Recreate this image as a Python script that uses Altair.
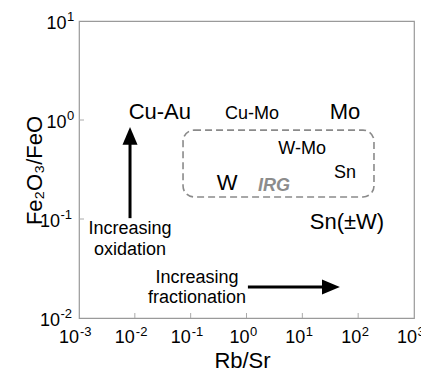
import altair as alt
import pandas as pd

# ---- data ----
x_ticks = [1e-3, 1e-2, 1e-1, 1e0, 1e1, 1e2, 1e3]
x_exps = ["-3", "-2", "-1", "0", "1", "2", "3"]
y_ticks = [1e-2, 1e-1, 1e0, 1e1]
y_exps = ["-2", "-1", "0", "1"]

big_labels = ["Cu-Au", "Mo", "W", "Sn(±W)"]
big_x = [0.028, 58, 0.45, 63]
big_y = [1.2, 1.2, 0.23, 0.093]

small_labels = ["Cu-Mo", "W-Mo", "Sn"]
small_x = [1.26, 9.9, 58]
small_y = [1.15, 0.51, 0.29]

irg_label = ["IRG"]
irg_x = [3.1]
irg_y = [0.215]

box_x = [0.073]
box_x2 = [192]
box_y = [0.79]
box_y2 = [0.167]

oxid_lines = ["Increasing", "oxidation"]
oxid_x = [0.0082, 0.0082]
oxid_y = [0.0793, 0.0486]

frac_lines = ["Increasing", "fractionation"]
frac_x = [0.13, 0.13]
frac_y = [0.0254, 0.0159]

up_x = [0.0082]
up_start = [0.102]
up_shaft_end = [0.63]
up_tip = [0.85]

right_y = [0.0206]
right_start = [1.06]
right_shaft_end = [25.5]
right_tip = [47]

FONT = "Liberation Sans"
W, H = 335, 297

xs = alt.Scale(type="log", domain=[1e-3, 1e3], nice=False)
ys = alt.Scale(type="log", domain=[1e-2, 1e1], nice=False)

x_axis = alt.Axis(values=x_ticks, labels=False, title="Rb/Sr", grid=False,
                  ticks=False, domain=False, titleFont=FONT, titleFontSize=22,
                  titleFontWeight="normal", titleColor="black",
                  titleX=163, titleY=49, titleBaseline="alphabetic", titleAlign="center")
y_axis = alt.Axis(values=y_ticks, labels=False, title="Fe₂O₃/FeO", grid=False,
                  ticks=False, domain=False, titleFont=FONT, titleFontSize=22,
                  titleFontWeight="normal", titleColor="black",
                  titleX=-38, titleY=149, titleAngle=270,
                  titleBaseline="alphabetic", titleAlign="center")

base = alt.Chart(pd.DataFrame({"x": [1e-3], "y": [1e-2]})).mark_point(opacity=0).encode(
    x=alt.X("x:Q", scale=xs, axis=x_axis),
    y=alt.Y("y:Q", scale=ys, axis=y_axis),
)

# inward tick marks
xticks = alt.Chart(pd.DataFrame({"x": x_ticks[1:-1]})).mark_rule(
    color="#aaaaaa", strokeWidth=1).encode(
    x=alt.X("x:Q", scale=xs), y=alt.value(H), y2=alt.value(H - 5))
yticks = alt.Chart(pd.DataFrame({"y": y_ticks[1:-1]})).mark_rule(
    color="#aaaaaa", strokeWidth=1).encode(
    y=alt.Y("y:Q", scale=ys), x=alt.value(0), x2=alt.value(5))

# tick labels as "10" + raised exponent
xlab = pd.DataFrame({"v": x_ticks, "e": x_exps})
xlab["neg"] = xlab["e"].str.startswith("-")
ylab = pd.DataFrame({"v": y_ticks, "e": y_exps})
ylab["neg"] = ylab["e"].str.startswith("-")

def xlabels(neg, dx10, dxe):
    src = alt.Chart(xlab).transform_filter(f"{'' if neg else '!'}datum.neg")
    ten = src.mark_text(font=FONT, fontSize=18, align="right", baseline="alphabetic",
                        dx=dx10, color="black").encode(
        x=alt.X("v:Q", scale=xs), y=alt.value(H + 25), text=alt.value("10"))
    ex = src.mark_text(font=FONT, fontSize=13, align="left", baseline="alphabetic",
                       dx=dxe, color="black").encode(
        x=alt.X("v:Q", scale=xs), y=alt.value(H + 18), text="e:N")
    return ten + ex

def ylabels(neg, x10):
    src = alt.Chart(ylab).transform_filter(f"{'' if neg else '!'}datum.neg")
    ten = src.mark_text(font=FONT, fontSize=18, align="right", baseline="alphabetic",
                        dy=8, color="black").encode(
        y=alt.Y("v:Q", scale=ys), x=alt.value(x10), text=alt.value("10"))
    ex = src.mark_text(font=FONT, fontSize=13, align="left", baseline="alphabetic",
                       dy=0, dx=0.5, color="black").encode(
        y=alt.Y("v:Q", scale=ys), x=alt.value(x10), text="e:N")
    return ten + ex

box = alt.Chart(pd.DataFrame({"x": box_x, "x2": box_x2, "y": box_y, "y2": box_y2})).mark_rect(
    fillOpacity=0, stroke="#8a8a8a", strokeWidth=1.6, strokeDash=[7, 4], cornerRadius=11
).encode(x=alt.X("x:Q", scale=xs), x2="x2:Q", y=alt.Y("y:Q", scale=ys), y2="y2:Q")

def text_layer(labels, x, y, size, **kw):
    df = pd.DataFrame({"t": labels, "x": x, "y": y})
    return alt.Chart(df).mark_text(font=FONT, fontSize=size, align="center",
                                   baseline="middle", **kw).encode(
        x=alt.X("x:Q", scale=xs), y=alt.Y("y:Q", scale=ys), text="t:N")

big = text_layer(big_labels, big_x, big_y, 22, color="black")
small = text_layer(small_labels, small_x, small_y, 18, color="black")
irg = text_layer(irg_label, irg_x, irg_y, 18, color="#8c8c8c", fontStyle="italic", fontWeight="bold")
oxid = text_layer(oxid_lines, oxid_x, oxid_y, 18, color="black")
frac = text_layer(frac_lines, frac_x, frac_y, 18, color="black")

up_df = pd.DataFrame({"x": up_x, "y": up_start, "y2": up_shaft_end, "tip": up_tip})
up_shaft = alt.Chart(up_df).mark_rule(color="black", strokeWidth=3).encode(
    x=alt.X("x:Q", scale=xs), y=alt.Y("y:Q", scale=ys), y2="y2:Q")
up_head = alt.Chart(up_df).mark_point(shape="M0,0L-0.8,1.9L0.8,1.9Z", filled=True,
                                      color="black", opacity=1, size=353).encode(
    x=alt.X("x:Q", scale=xs), y=alt.Y("tip:Q", scale=ys))

r_df = pd.DataFrame({"y": right_y, "x": right_start, "x2": right_shaft_end, "tip": right_tip})
r_shaft = alt.Chart(r_df).mark_rule(color="black", strokeWidth=3).encode(
    y=alt.Y("y:Q", scale=ys), x=alt.X("x:Q", scale=xs), x2="x2:Q")
r_head = alt.Chart(r_df).mark_point(shape="M0,0L-1.9,-0.8L-1.9,0.8Z", filled=True,
                                    color="black", opacity=1, size=353).encode(
    y=alt.Y("y:Q", scale=ys), x=alt.X("tip:Q", scale=xs))

chart = alt.layer(base, xticks, yticks,
                  xlabels(True, 0, 1), xlabels(False, 3, 3.5),
                  ylabels(True, -19), ylabels(False, -12.5),
                  box, big, small, irg, oxid, frac,
                  up_shaft, up_head, r_shaft, r_head).properties(
    width=W, height=H,
    autosize=alt.AutoSizeParams(type="none"),
    padding={"left": 71, "top": 13, "right": 7, "bottom": 53},
    background="white",
).configure_view(stroke="#9a9a9a", strokeWidth=1.2)

chart.save("out.html", embed_options={"renderer": "svg", "actions": False})
